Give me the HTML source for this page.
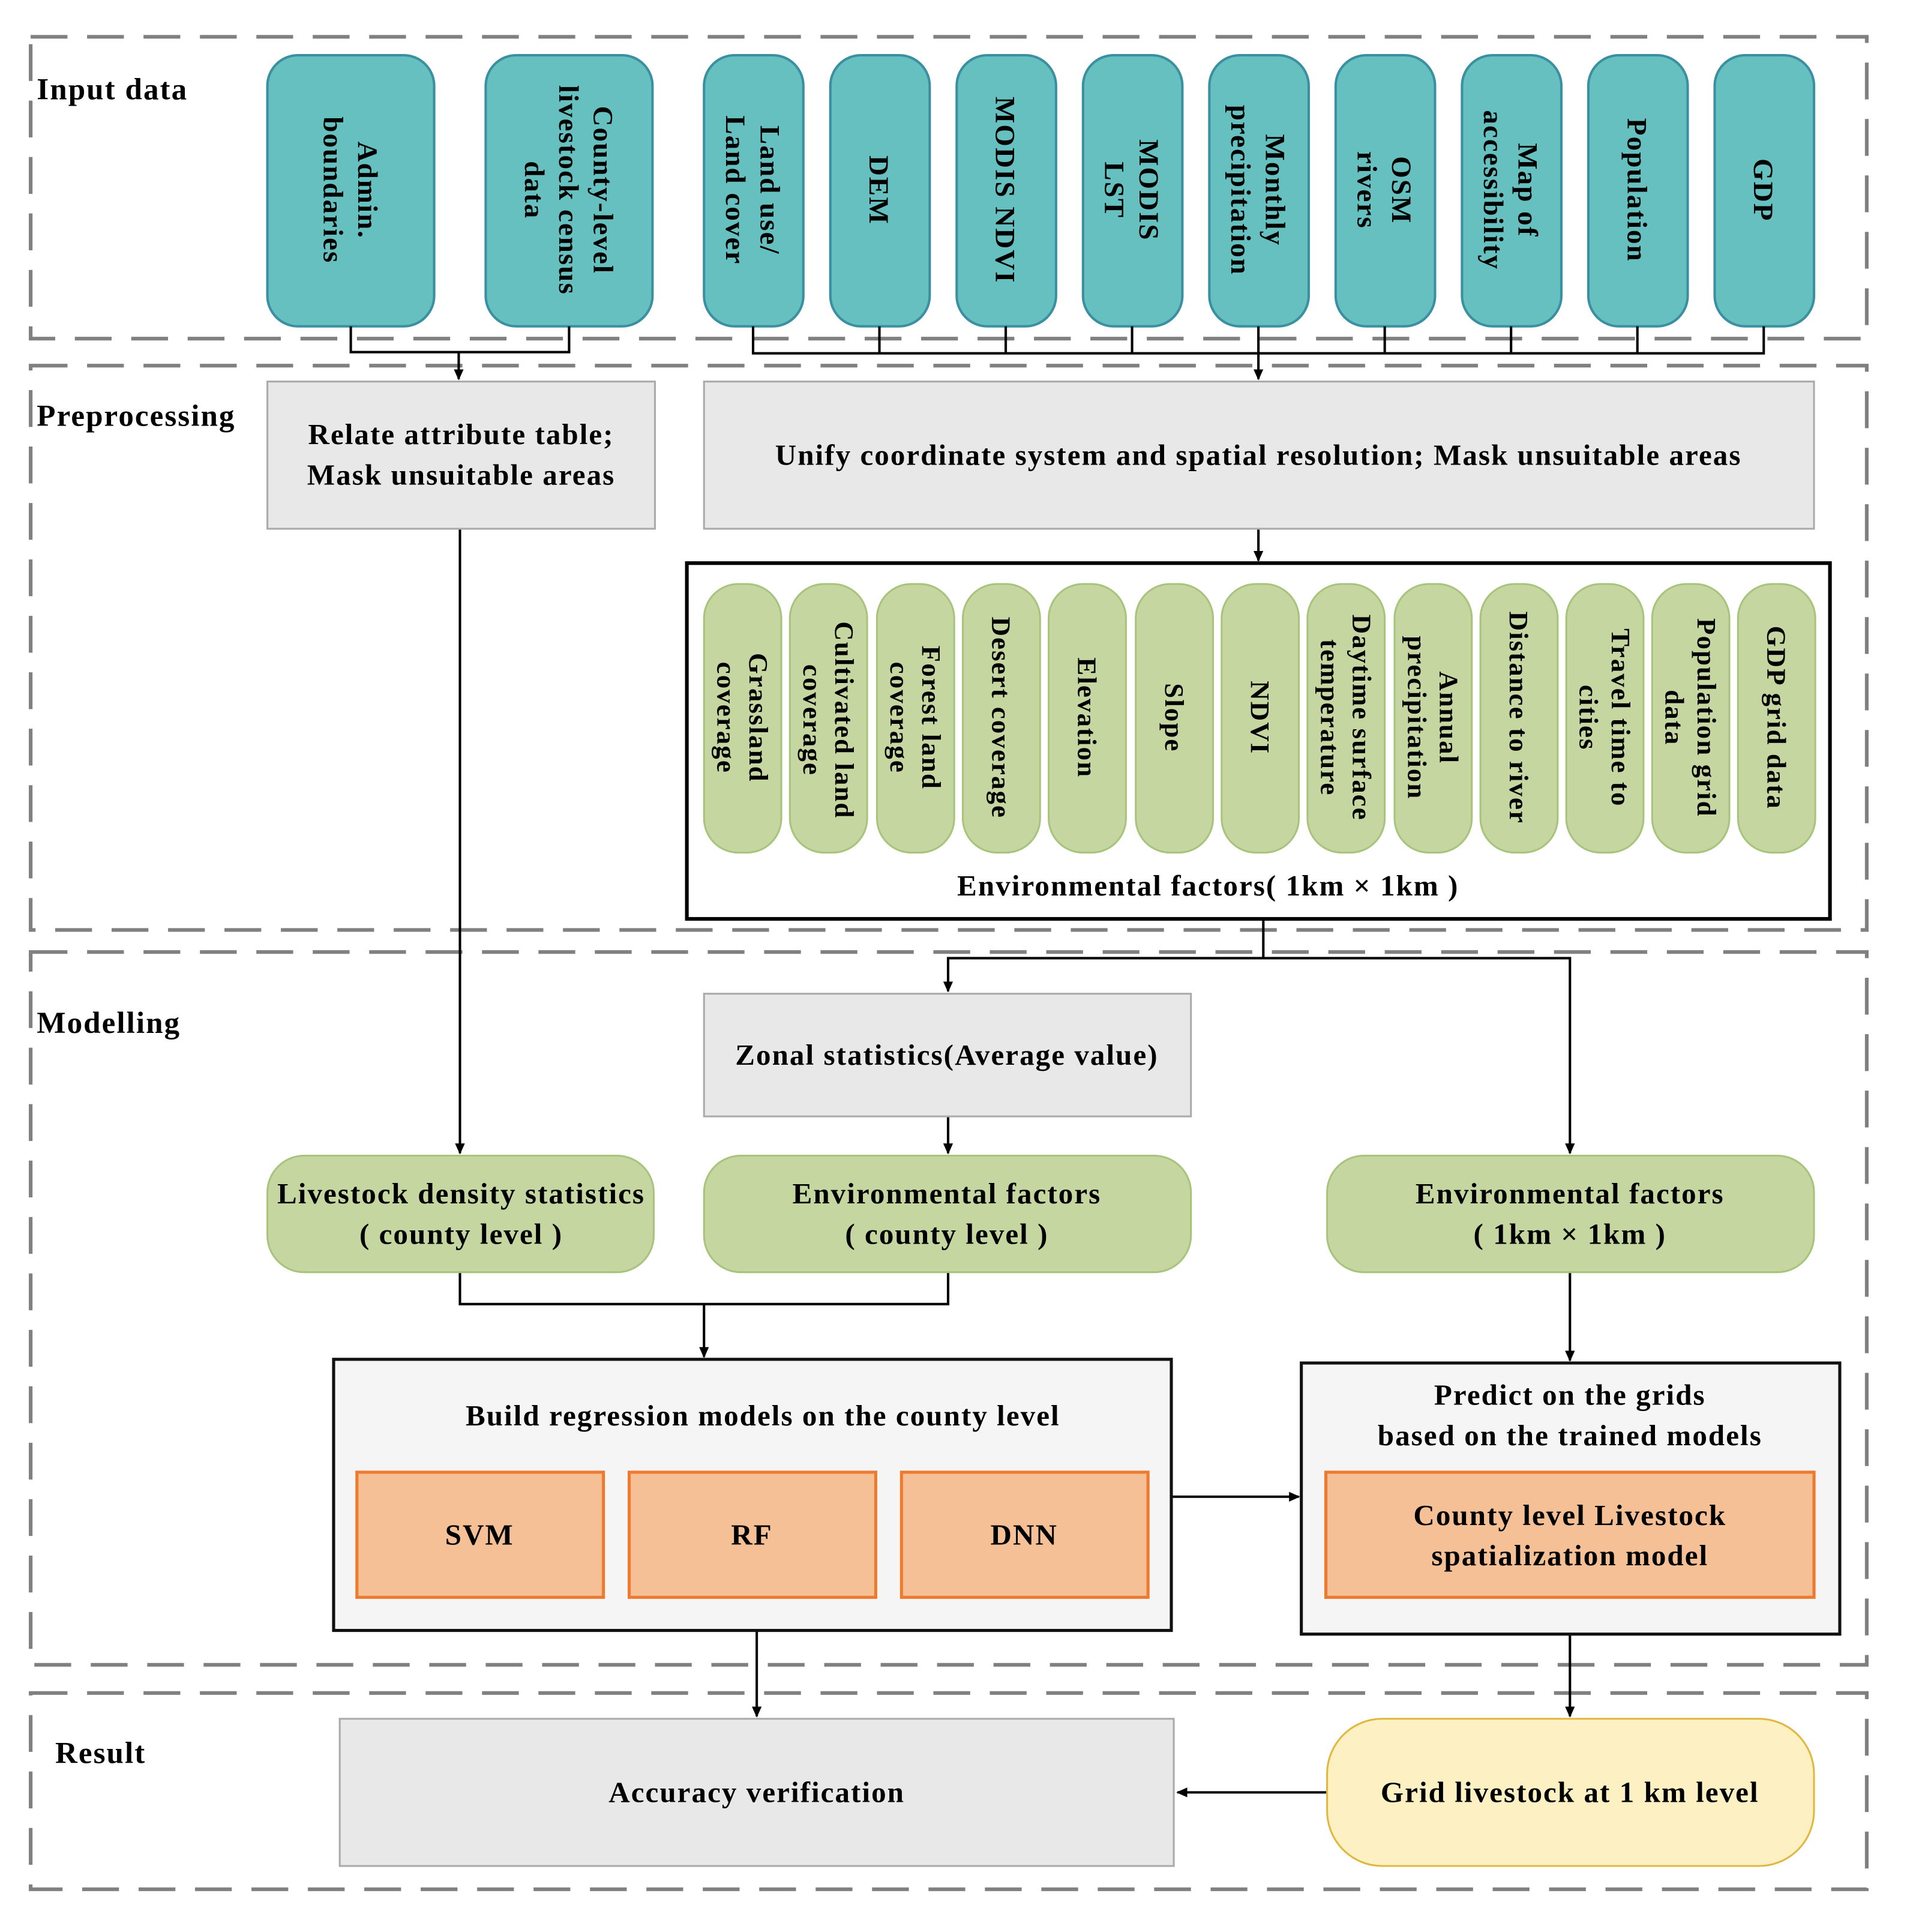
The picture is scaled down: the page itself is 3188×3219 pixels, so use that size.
<!DOCTYPE html>
<html><head><meta charset="utf-8"><style>
html,body{margin:0;padding:0;background:#fff}
svg{display:block}
text{font-family:"Liberation Serif",serif;font-weight:bold;fill:#000;letter-spacing:1px}
</style></head><body>
<svg xmlns="http://www.w3.org/2000/svg" width="3188" height="3219" viewBox="0 0 1559.7 1574.8" preserveAspectRatio="none">
<defs><marker id="a" markerWidth="10" markerHeight="10" refX="8" refY="4" orient="auto" markerUnits="userSpaceOnUse"><path d="M0,0 L9,4 L0,8 Z" fill="#000"/></marker></defs>
<g fill="none" stroke="#808080" stroke-width="3" stroke-dasharray="30,16">
<rect x="25" y="30" width="1497" height="246"/>
<rect x="25" y="298" width="1497" height="460"/>
<rect x="25" y="776" width="1497" height="581"/>
<rect x="25" y="1380" width="1497" height="160"/>
</g>
<g font-size="25">
<text x="30" y="81">Input data</text>
<text x="30" y="347">Preprocessing</text>
<text x="30" y="842">Modelling</text>
<text x="45" y="1437">Result</text>
</g>
<g fill="#66c0c0" stroke="#3a8fa0" stroke-width="2">
<rect x="218" y="45" width="136" height="221" rx="25"/>
<rect x="396" y="45" width="136" height="221" rx="25"/>
<rect x="574" y="45" width="81" height="221" rx="25"/>
<rect x="677" y="45" width="81" height="221" rx="25"/>
<rect x="780" y="45" width="81" height="221" rx="25"/>
<rect x="883" y="45" width="81" height="221" rx="25"/>
<rect x="986" y="45" width="81" height="221" rx="25"/>
<rect x="1089" y="45" width="81" height="221" rx="25"/>
<rect x="1192" y="45" width="81" height="221" rx="25"/>
<rect x="1295" y="45" width="81" height="221" rx="25"/>
<rect x="1398" y="45" width="81" height="221" rx="25"/>
</g>
<g font-size="23" text-anchor="middle">
<text transform="translate(286,155) rotate(90)"><tspan x="0" y="-6">Admin.</tspan><tspan x="0" y="22">boundaries</tspan></text>
<text transform="translate(464,155) rotate(90)"><tspan x="0" y="-20">County-level</tspan><tspan x="0" y="8">livestock census</tspan><tspan x="0" y="36">data</tspan></text>
<text transform="translate(614,155) rotate(90)"><tspan x="0" y="-6">Land use/</tspan><tspan x="0" y="22">Land cover</tspan></text>
<text transform="translate(717,155) rotate(90)"><tspan x="0" y="8">DEM</tspan></text>
<text transform="translate(820,155) rotate(90)"><tspan x="0" y="8">MODIS NDVI</tspan></text>
<text transform="translate(923,155) rotate(90)"><tspan x="0" y="-6">MODIS</tspan><tspan x="0" y="22">LST</tspan></text>
<text transform="translate(1026,155) rotate(90)"><tspan x="0" y="-6">Monthly</tspan><tspan x="0" y="22">precipitation</tspan></text>
<text transform="translate(1129,155) rotate(90)"><tspan x="0" y="-6">OSM</tspan><tspan x="0" y="22">rivers</tspan></text>
<text transform="translate(1232,155) rotate(90)"><tspan x="0" y="-6">Map of</tspan><tspan x="0" y="22">accessibility</tspan></text>
<text transform="translate(1335,155) rotate(90)"><tspan x="0" y="8">Population</tspan></text>
<text transform="translate(1438,155) rotate(90)"><tspan x="0" y="8">GDP</tspan></text>
</g>
<g stroke="#000" stroke-width="2" fill="none">
<path d="M286,266 V287 H464 V266"/>
<path d="M374,287 V309" marker-end="url(#a)"/>
<path d="M614,266 V288 H1438 V266"/>
<path d="M717,266V288 M820,266V288 M923,266V288 M1026,266V288 M1129,266V288 M1232,266V288 M1335,266V288"/>
<path d="M1026,288 V309" marker-end="url(#a)"/>
<path d="M1026,431 V457" marker-end="url(#a)"/>
<path d="M375,431 V940" marker-end="url(#a)"/>
<path d="M1030,749 V781 H773 V808" marker-end="url(#a)"/>
<path d="M1030,781 H1280 V940" marker-end="url(#a)"/>
<path d="M773,910 V940" marker-end="url(#a)"/>
<path d="M375,1037 V1063 H773 V1037"/>
<path d="M574,1063 V1106" marker-end="url(#a)"/>
<path d="M955,1220 H1059" marker-end="url(#a)"/>
<path d="M1280,1037 V1109" marker-end="url(#a)"/>
<path d="M617,1329 V1399" marker-end="url(#a)"/>
<path d="M1280,1332 V1399" marker-end="url(#a)"/>
<path d="M1082,1461 H960" marker-end="url(#a)"/>
</g>
<g fill="#e8e8e8" stroke="#aaa" stroke-width="1.5">
<rect x="218" y="311" width="316" height="120"/>
<rect x="574" y="311" width="905" height="120"/>
<rect x="574" y="810" width="397" height="100"/>
<rect x="277" y="1401" width="680" height="120"/>
</g>
<g font-size="24" text-anchor="middle">
<text x="376" y="362">Relate attribute table;</text>
<text x="376" y="395">Mask unsuitable areas</text>
<text x="1026" y="379">Unify coordinate system and spatial resolution; Mask unsuitable areas</text>
<text x="772" y="868">Zonal statistics(Average value)</text>
<text x="617" y="1469">Accuracy verification</text>
</g>
<rect x="560" y="459" width="932" height="290" fill="#fff" stroke="#000" stroke-width="3"/>
<g fill="#c5d6a0" stroke="#a8c47c" stroke-width="1.5">
<rect x="574" y="476" width="63" height="219" rx="28"/>
<rect x="644" y="476" width="63" height="219" rx="28"/>
<rect x="715" y="476" width="63" height="219" rx="28"/>
<rect x="785" y="476" width="63" height="219" rx="28"/>
<rect x="855" y="476" width="63" height="219" rx="28"/>
<rect x="926" y="476" width="63" height="219" rx="28"/>
<rect x="996" y="476" width="63" height="219" rx="28"/>
<rect x="1066" y="476" width="63" height="219" rx="28"/>
<rect x="1137" y="476" width="63" height="219" rx="28"/>
<rect x="1207" y="476" width="63" height="219" rx="28"/>
<rect x="1277" y="476" width="63" height="219" rx="28"/>
<rect x="1347" y="476" width="63" height="219" rx="28"/>
<rect x="1417" y="476" width="63" height="219" rx="28"/>
</g>
<g font-size="22" text-anchor="middle">
<text transform="translate(605,585) rotate(90)"><tspan x="0" y="-6">Grassland</tspan><tspan x="0" y="20">coverage</tspan></text>
<text transform="translate(675,587) rotate(90)"><tspan x="0" y="-6">Cultivated land</tspan><tspan x="0" y="20">coverage</tspan></text>
<text transform="translate(746,585) rotate(90)"><tspan x="0" y="-6">Forest  land</tspan><tspan x="0" y="20">coverage</tspan></text>
<text transform="translate(816,585) rotate(90)"><tspan x="0" y="7">Desert coverage</tspan></text>
<text transform="translate(886,585) rotate(90)"><tspan x="0" y="7">Elevation</tspan></text>
<text transform="translate(957,585) rotate(90)"><tspan x="0" y="7">Slope</tspan></text>
<text transform="translate(1027,585) rotate(90)"><tspan x="0" y="7">NDVI</tspan></text>
<text transform="translate(1097,585) rotate(90)"><tspan x="0" y="-6">Daytime surface</tspan><tspan x="0" y="20">temperature</tspan></text>
<text transform="translate(1168,585) rotate(90)"><tspan x="0" y="-6">Annual</tspan><tspan x="0" y="20">precipitation</tspan></text>
<text transform="translate(1238,585) rotate(90)"><tspan x="0" y="7">Distance to river</tspan></text>
<text transform="translate(1308,585) rotate(90)"><tspan x="0" y="-6">Travel time to</tspan><tspan x="0" y="20">cities</tspan></text>
<text transform="translate(1378,585) rotate(90)"><tspan x="0" y="-6">Population grid</tspan><tspan x="0" y="20">data</tspan></text>
<text transform="translate(1448,585) rotate(90)"><tspan x="0" y="7">GDP grid data</tspan></text>
</g>
<text x="985" y="730" font-size="24" text-anchor="middle">Environmental factors(  1km × 1km )</text>
<g fill="#c5d6a0" stroke="#a8c47c" stroke-width="1.5">
<rect x="218" y="942" width="315" height="95" rx="30"/>
<rect x="574" y="942" width="397" height="95" rx="30"/>
<rect x="1082" y="942" width="397" height="95" rx="30"/>
</g>
<g font-size="24" text-anchor="middle">
<text x="376" y="981">Livestock density statistics</text>
<text x="376" y="1014">(  county level )</text>
<text x="772" y="981">Environmental factors</text>
<text x="772" y="1014">(  county level )</text>
<text x="1280" y="981">Environmental factors</text>
<text x="1280" y="1014">(  1km × 1km )</text>
</g>
<g fill="#f5f5f5" stroke="#111" stroke-width="2.5">
<rect x="272" y="1108" width="683" height="221"/>
<rect x="1061" y="1111" width="439" height="221"/>
</g>
<g fill="#f5c096" stroke="#ee7a30" stroke-width="2.5">
<rect x="291" y="1200" width="201" height="102"/>
<rect x="513" y="1200" width="201" height="102"/>
<rect x="735" y="1200" width="201" height="102"/>
<rect x="1081" y="1200" width="398" height="102"/>
</g>
<rect x="1082" y="1401" width="397" height="120" rx="45" fill="#fdf0c2" stroke="#e0b840" stroke-width="1.5"/>
<g font-size="24" text-anchor="middle">
<text x="622" y="1162">Build regression models on the county level</text>
<text x="391" y="1259">SVM</text>
<text x="613" y="1259">RF</text>
<text x="835" y="1259">DNN</text>
<text x="1280" y="1145">Predict on the grids</text>
<text x="1280" y="1178">based on the trained models</text>
<text x="1280" y="1243">County level Livestock</text>
<text x="1280" y="1276">spatialization model</text>
<text x="1280" y="1469">Grid livestock at 1 km level</text>
</g>
</svg>
</body></html>
